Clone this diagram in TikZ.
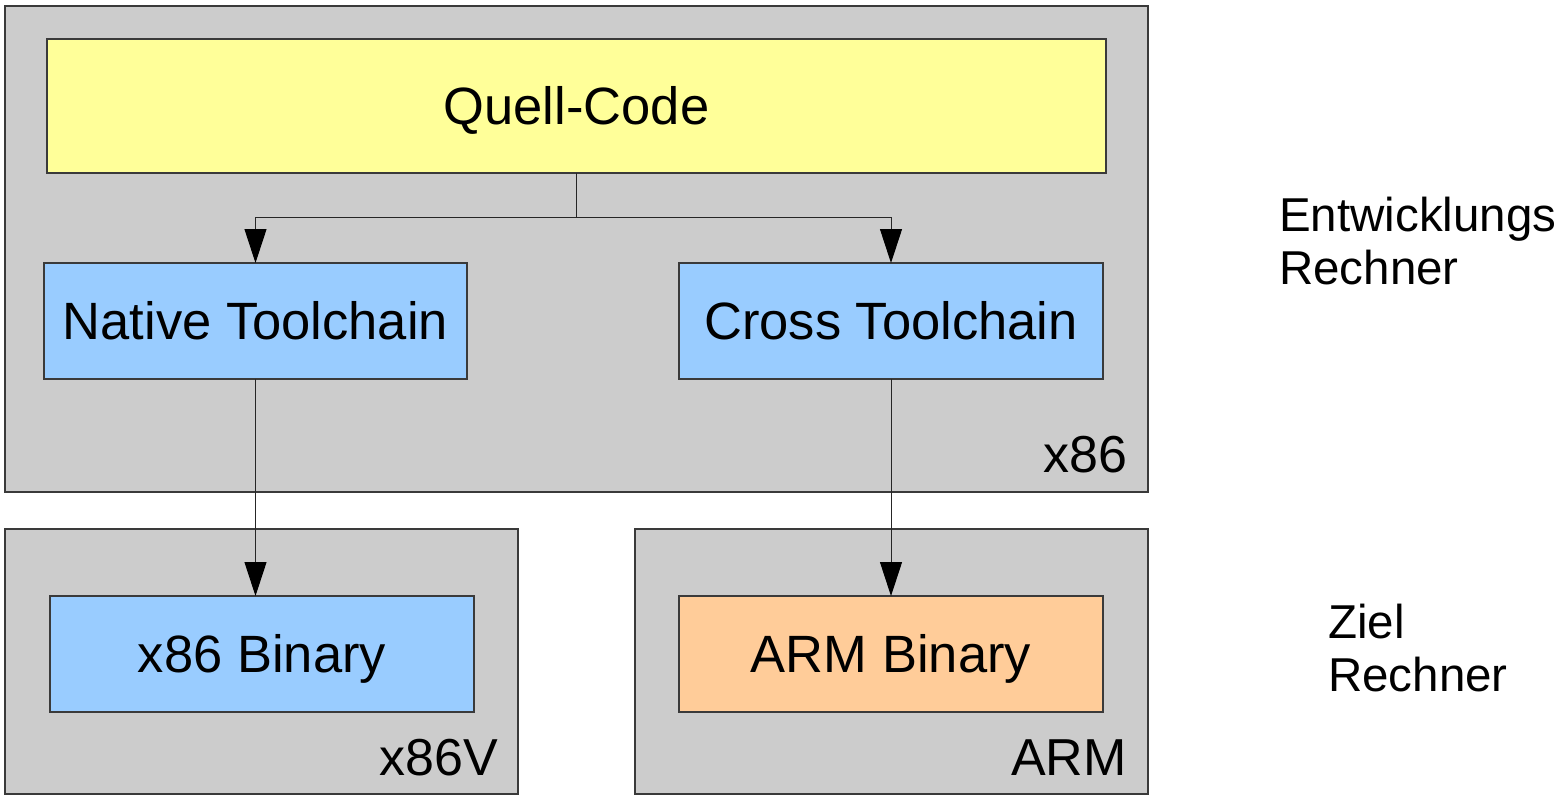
\documentclass[tikz,border=0pt]{standalone}
\usepackage{fontspec}
\setmainfont{Liberation Sans}
\usetikzlibrary{arrows.meta}
\definecolor{grayfill}{HTML}{CCCCCC}
\definecolor{yellowfill}{HTML}{FFFF99}
\definecolor{bluefill}{HTML}{99CCFF}
\definecolor{orangefill}{HTML}{FFCC99}
\definecolor{edge}{HTML}{3A3A3A}
\begin{document}
\begin{tikzpicture}[x=1pt,y=-1pt,
  machine/.style={draw=edge,line width=1.3pt,fill=grayfill,inner sep=0pt,outer sep=0pt},
  box/.style={draw=edge,line width=1.3pt,inner sep=0pt,outer sep=0pt,minimum width=424pt,minimum height=116pt,text height=37.6pt,text depth=0pt,font=\fontsize{52.5}{60}\selectfont},
  lbl/.style={inner sep=0pt,font=\fontsize{52}{60}\selectfont},
  side/.style={inner sep=0pt,anchor=base west,font=\fontsize{47.5}{53}\selectfont},
  conn/.style={draw=black!85,line width=1pt,-{Triangle[width=22pt,length=34pt,color=black]}}]
\useasboundingbox (0,0) rectangle (1568,795);
\node[machine,minimum width=1143pt,minimum height=486pt] (host) at (576.5,249) {};
\node[machine,minimum width=513pt,minimum height=265pt] (x86v) at (261.5,661.5) {};
\node[machine,minimum width=513pt,minimum height=265pt] (arm) at (891.5,661.5) {};
\node[box,fill=yellowfill,minimum width=1059pt,minimum height=134pt] (src) at (576.5,106) {Quell-Code};
\node[box,fill=bluefill,minimum width=423pt] (native) at (255.5,321) {Native Toolchain};
\node[box,fill=bluefill] (cross) at (891,321) {Cross Toolchain};
\node[box,fill=bluefill] (xbin) at (262,654) {x86 Binary};
\node[box,fill=orangefill] (abin) at (891,654) {ARM Binary};
\node[lbl,anchor=base east] (lhost) at (1128,472) {x86};
\node[lbl,anchor=base east] (lx86v) at (498,775) {x86V};
\node[lbl,anchor=base east] (larm) at (1127,775) {ARM};
\node[side] (e1) at (1279,231) {Entwicklungs};
\node[side] (e2) at (1279,284) {Rechner};
\node[side] (z1) at (1328,638) {Ziel};
\node[side] (z2) at (1328,691) {Rechner};
\coordinate (split) at (576.5,217);
\draw[conn] (src.south) -- (split) -| (native.north);
\draw[conn] (split) -| (cross.north);
\draw[conn] (native.south) -- (native.south |- xbin.north);
\draw[conn] (cross.south) -- (abin.north);
\end{tikzpicture}
\end{document}
